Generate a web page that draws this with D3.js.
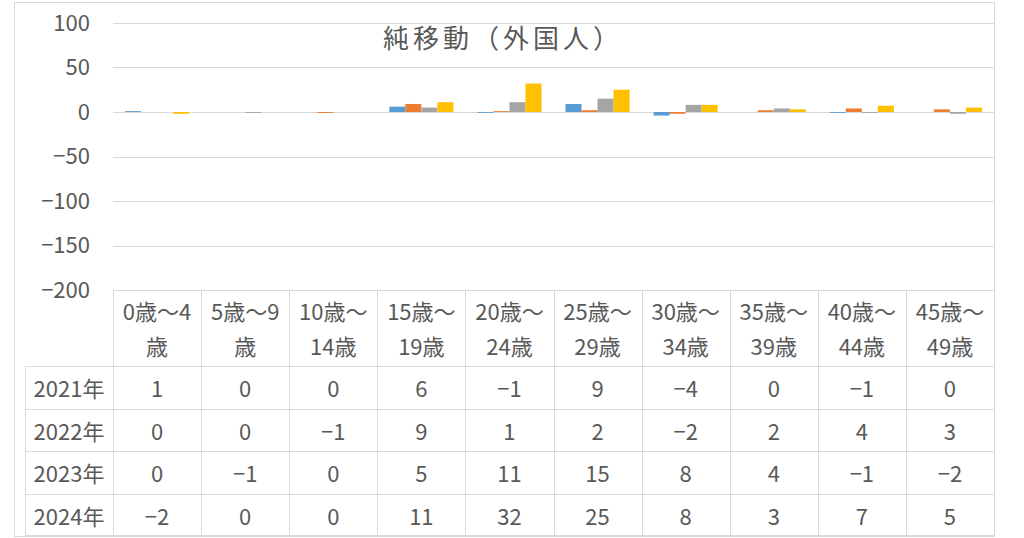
<!DOCTYPE html>
<html><head><meta charset="utf-8">
<script src="https://cdn.jsdelivr.net/npm/d3@7"></script>
<style>
html,body{margin:0;padding:0;background:#fff;}
text{font-family:"Noto Sans CJK JP","Noto Sans",sans-serif;fill:#595959;}
</style></head>
<body><svg id="c" width="1024" height="538"></svg>
<script>
const title = "純移動（外国人）";
const categories = ["0歳～4歳","5歳～9歳","10歳～14歳","15歳～19歳","20歳～24歳","25歳～29歳","30歳～34歳","35歳～39歳","40歳～44歳","45歳～49歳"];
const years = ["2021年","2022年","2023年","2024年"];
const v2021 = [1,0,0,6,-1,9,-4,0,-1,0];
const v2022 = [0,0,-1,9,1,2,-2,2,4,3];
const v2023 = [0,-1,0,5,11,15,8,4,-1,-2];
const v2024 = [-2,0,0,11,32,25,8,3,7,5];
const yTicks = [100,50,0,-50,-100,-150,-200];
const colors = ["#5B9BD5","#ED7D31","#A5A5A5","#FFC000"];

const series = [v2021,v2022,v2023,v2024].map((vals,i)=>({year:years[i],vals,color:colors[i]}));

const svg = d3.select("#c");
const grid = "#d9d9d9";
const L = 113, R = 994, T = 23, B = 290;
const chartL = 14, chartT = 2, chartB = 536;
const rowLabL = 25;
const headerB = 366;
const FS = 22;

// chart area border
svg.append("rect").attr("x",chartL+0.5).attr("y",chartT+0.5).attr("width",R-chartL).attr("height",chartB-chartT)
  .attr("fill","#fff").attr("stroke",grid);

const x = d3.scaleBand().domain(categories).range([L,R]).paddingInner(0).paddingOuter(0);
const xs = d3.scaleBand().domain(years).range([0,x.bandwidth()]).paddingInner(0).paddingOuter(0.75);
const y = d3.scaleLinear().domain([-200,100]).range([B,T]);
const fmt = d3.format("d");

// gridlines
svg.append("g").selectAll("line").data(yTicks).join("line")
  .attr("x1",L).attr("x2",R).attr("y1",d=>Math.round(y(d))+0.5).attr("y2",d=>Math.round(y(d))+0.5)
  .attr("stroke",grid).attr("stroke-width",1);

// y axis labels
const yAxis = d3.axisLeft(y).tickValues(yTicks).tickFormat(fmt).tickSize(0).tickPadding(0);
const ya = svg.append("g").attr("transform",`translate(90,0)`).call(yAxis);
ya.select(".domain").remove();
ya.selectAll("text").attr("font-size",FS).style("fill","#595959").attr("font-family",'"Noto Sans CJK JP",sans-serif');

// title
svg.append("text").attr("x",383).attr("y",36).attr("text-anchor","start").attr("dominant-baseline","central")
  .attr("font-size",26).attr("letter-spacing",4).text(title);

// bars
series.forEach(s=>{
  svg.append("g").selectAll("rect").data(s.vals.map((v,i)=>({v,c:categories[i]}))).join("rect")
    .attr("x",d=>x(d.c)+xs(s.year))
    .attr("width",xs.bandwidth())
    .attr("y",d=>Math.min(y(d.v),y(0)))
    .attr("height",d=>Math.abs(y(d.v)-y(0)))
    .attr("fill",s.color);
});

// data table
const tbl = svg.append("g");
const rowY = d3.scaleBand().domain(years).range([headerB,chartB]);
tbl.append("line").attr("x1",L).attr("x2",R).attr("y1",B+0.5).attr("y2",B+0.5).attr("stroke",grid);
years.forEach(yr=>{
  const yy = Math.round(rowY(yr))+0.5;
  tbl.append("line").attr("x1",rowLabL).attr("x2",R).attr("y1",yy).attr("y2",yy).attr("stroke",grid);
});
tbl.append("line").attr("x1",rowLabL).attr("x2",R).attr("y1",chartB-0.5).attr("y2",chartB-0.5).attr("stroke",grid);
categories.concat([null]).forEach((c,i)=>{
  const xx = Math.round(c===null?R:x(c))+0.5;
  tbl.append("line").attr("x1",xx).attr("x2",xx).attr("y1",B).attr("y2",chartB).attr("stroke",grid);
});
tbl.append("line").attr("x1",rowLabL+0.5).attr("x2",rowLabL+0.5).attr("y1",headerB).attr("y2",chartB).attr("stroke",grid);

// header (wrapped category labels)
const maxW = 76;
categories.forEach(c=>{
  const cx = x(c)+x.bandwidth()/2;
  const t = tbl.append("text").attr("x",cx).attr("text-anchor","middle").attr("font-size",FS).attr("dominant-baseline","central");
  const chars = Array.from(c);
  const lines=[]; let cur="";
  const probe = svg.append("text").attr("font-size",FS);
  chars.forEach(ch=>{
    probe.text(cur+ch);
    if(cur && probe.node().getComputedTextLength()>maxW){lines.push(cur);cur=ch;} else cur+=ch;
  });
  probe.remove();
  if(cur) lines.push(cur);
  const mid=(B+headerB)/2 - 1, lh=35;
  lines.forEach((ln,i)=>{
    t.append("tspan").attr("x",cx).attr("y",mid+(i-(lines.length-1)/2)*lh).text(ln);
  });
});

// row labels and values
series.forEach(s=>{
  const cy = rowY(s.year)+rowY.bandwidth()/2;
  tbl.append("text").attr("x",(rowLabL+L)/2).attr("y",cy).attr("text-anchor","middle").attr("dominant-baseline","central")
    .attr("font-size",FS).text(s.year);
  tbl.append("g").selectAll("text").data(s.vals.map((v,i)=>({v,c:categories[i]}))).join("text")
    .attr("x",d=>x(d.c)+x.bandwidth()/2).attr("y",cy).attr("text-anchor","middle").attr("dominant-baseline","central")
    .attr("font-size",FS).text(d=>fmt(d.v));
});
</script></body></html>
